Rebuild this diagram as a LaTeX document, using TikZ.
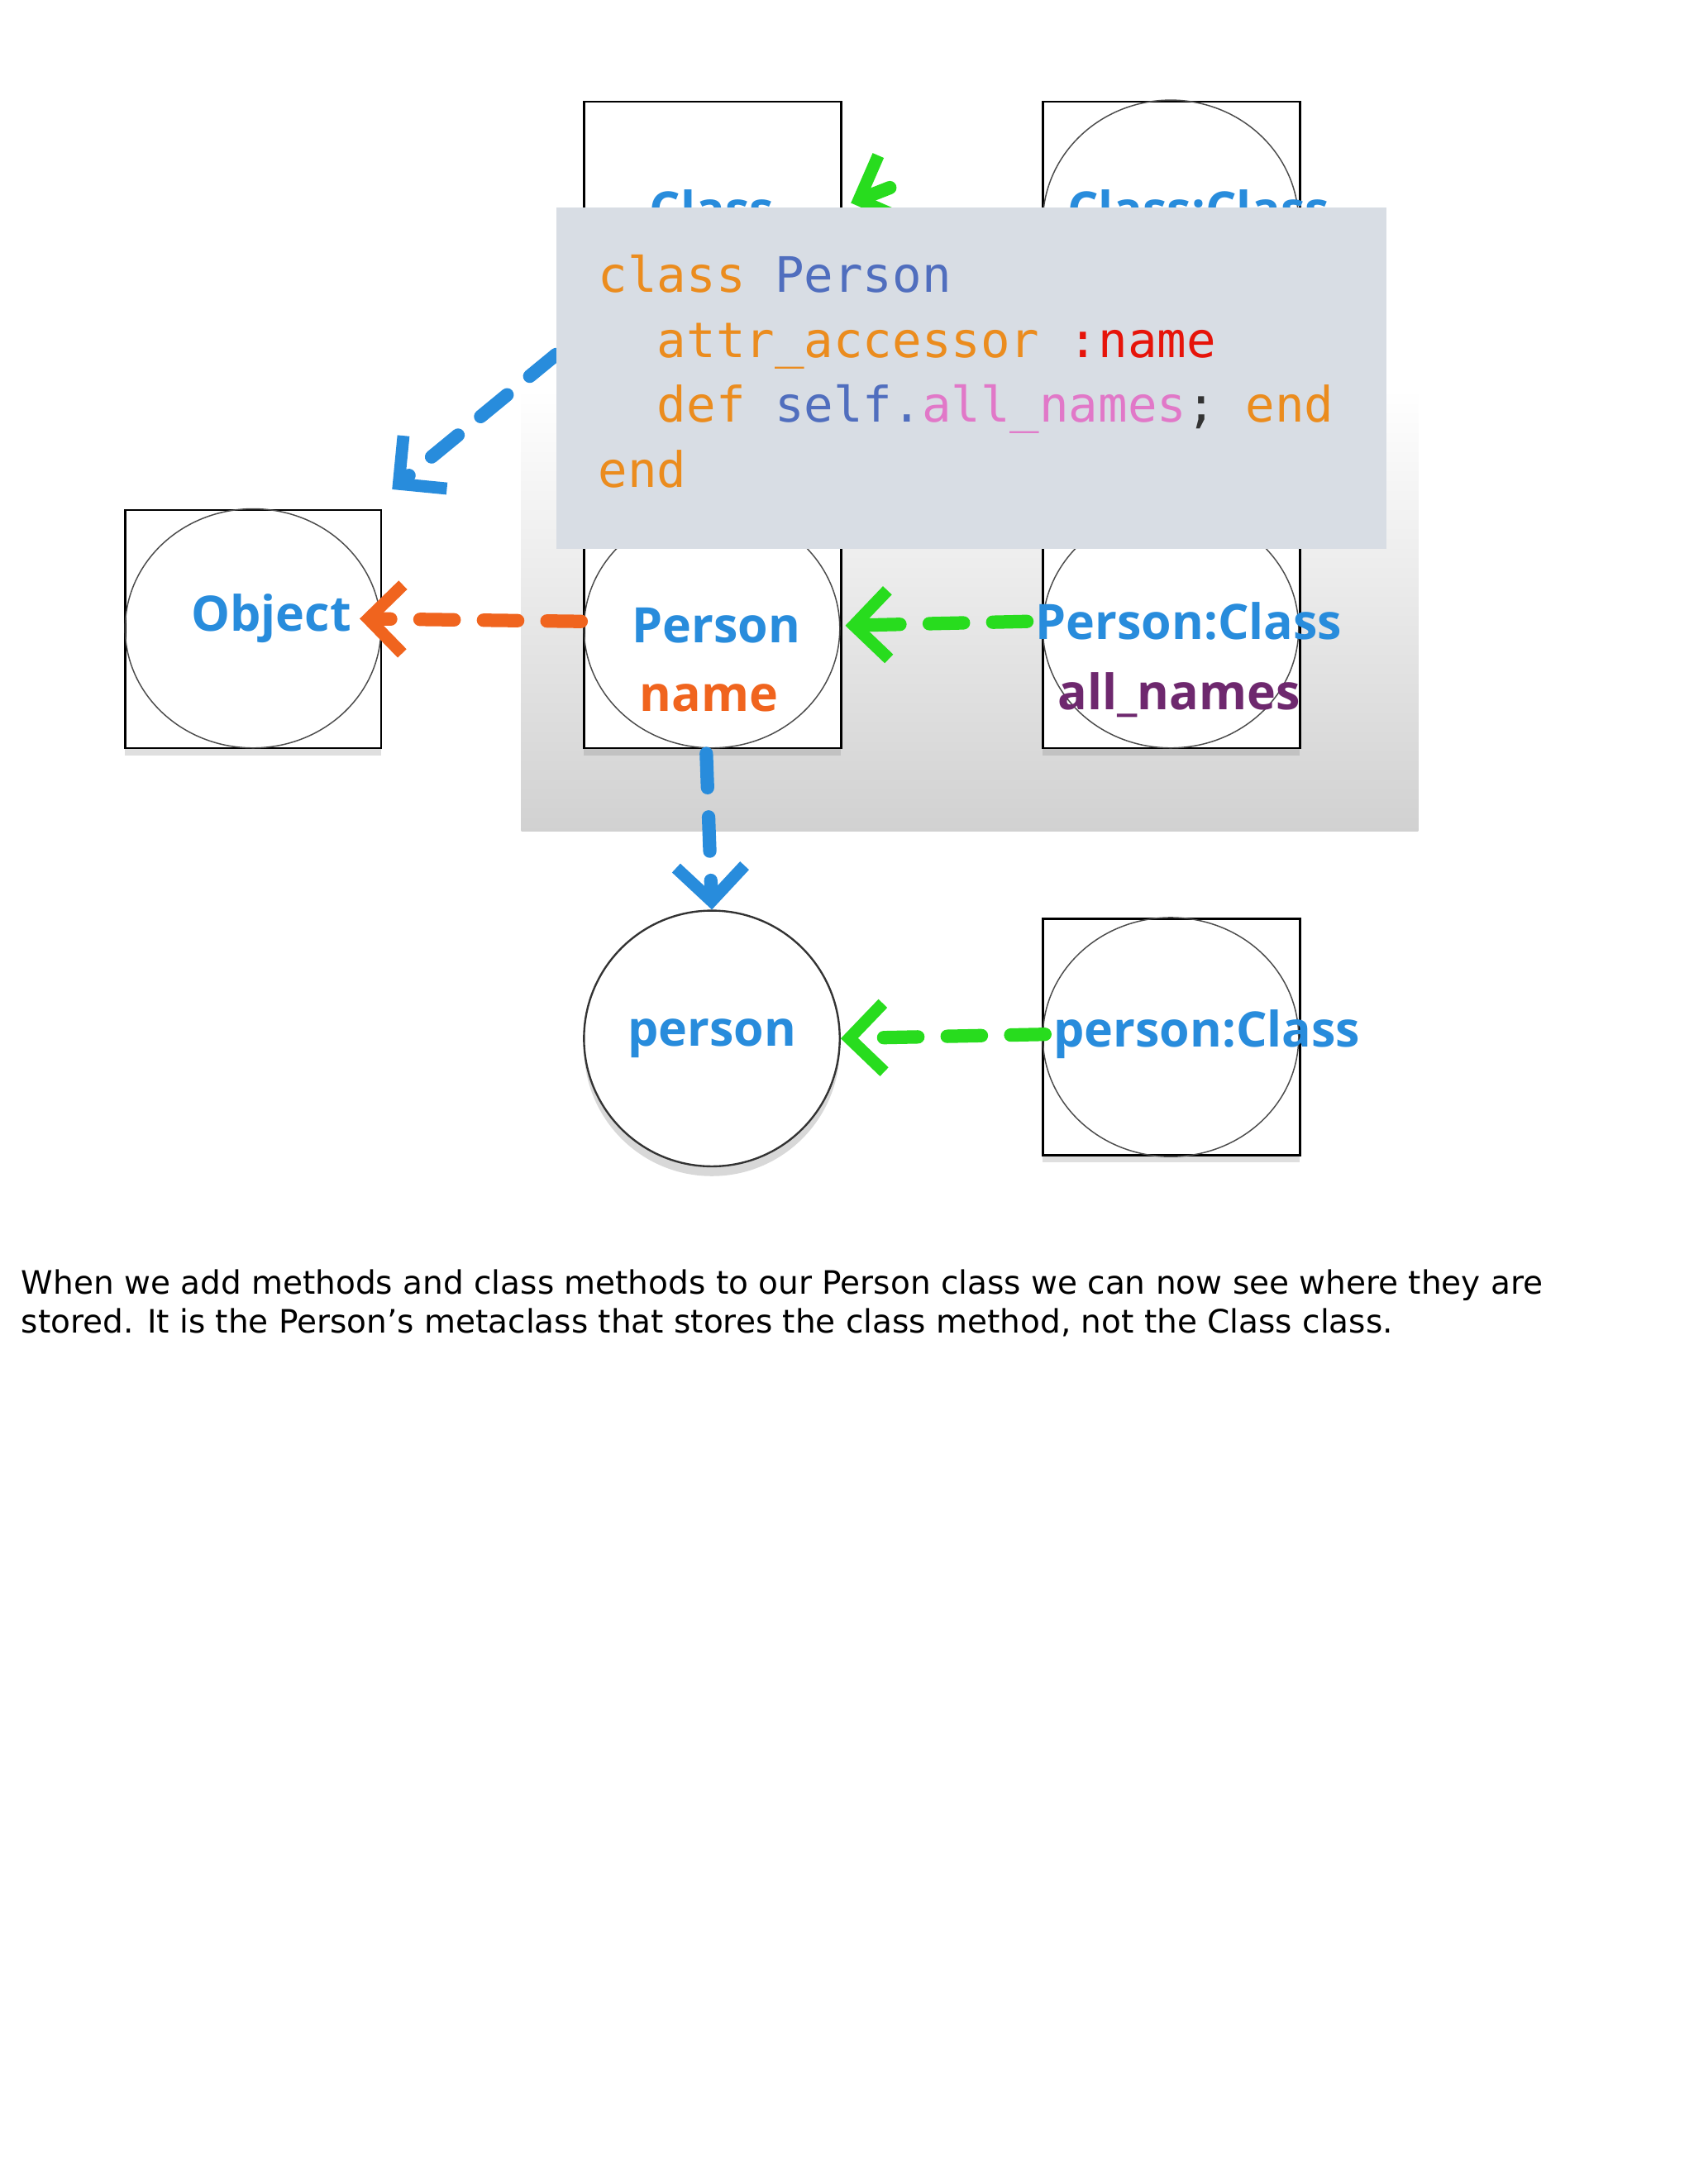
\documentclass[tikz,border=0pt]{standalone}
\usepackage{fontspec}
\setmainfont{DejaVu Sans}
\newfontfamily\lblfont{Open Sans}
\newfontfamily\capfont{DejaVu Sans}
\newfontfamily\monofont{DejaVu Sans Mono}
\usetikzlibrary{arrows.meta,shadows}
\definecolor{lblue}{RGB}{40,140,220}
\definecolor{lgreen}{RGB}{40,220,30}
\definecolor{lorange}{RGB}{240,100,30}
\definecolor{corange}{RGB}{235,140,30}
\definecolor{cblue}{RGB}{80,110,190}
\definecolor{cred}{RGB}{230,20,10}
\definecolor{cpink}{RGB}{225,120,200}
\definecolor{lpurple}{RGB}{110,40,110}
\definecolor{codebg}{RGB}{216,221,228}
\begin{document}
\begin{tikzpicture}[x=0.02cm,y=-0.02cm,
  box/.style={draw=black,line width=0.8pt,fill=white,drop shadow={opacity=0.25,shadow xshift=0pt,shadow yshift=-3pt}},
  circ/.style={draw=black!70,line width=0.5pt},
  lab/.style={font=\lblfont\bfseries\fontsize{20}{24}\selectfont,text=lblue},
  arr/.style={line width=5.5pt,dash pattern=on 14pt off 12pt,-{Straight Barb[length=14pt,width=28pt,line width=5pt]},line cap=round}]
\useasboundingbox (0,0) rectangle (1218,1571);
\fill[white] (0,0) rectangle (1218,1571);
% panel
\shade[top color=white,bottom color=black!18] (375,280) rectangle (1020,598);
% boxes
\draw[box] (420,73) rectangle (605,250);
\node[lab] (class) at (512,150) {Class};
\draw[box] (750,73) rectangle (935,250);
\draw[circ] (842,160) circle[x radius=92,y radius=88];
\node[lab] (cc) at (862,150) {Class:Class};
\draw[box] (90,367) rectangle (274,538);
\draw[circ] (182,452) circle[x radius=92,y radius=86];
\node[lab] (object) at (195,445) {Object};
\draw[box] (420,367) rectangle (605,538);
\draw[circ] (512,452) circle[x radius=92,y radius=86];
\node[lab] (person) at (515,450) {Person};
\node[lab,text=lorange] (name) at (510,502) {name};
\draw[box] (750,367) rectangle (935,538);
\draw[circ] (842,452) circle[x radius=92,y radius=86];
\node[lab] (pc) at (855,447) {Person:Class};
\node[lab,text=lpurple] (alln) at (848,500) {all\_names};
\node[circle,draw=black!80,line width=0.8pt,fill=white,minimum size=3.68cm,inner sep=0pt,drop shadow={opacity=0.3,shadow xshift=0pt,shadow yshift=-4pt}] (pcirc) at (512,747) {};
\node[lab] (pers) at (512,747) {person};
\draw[box] (750,661) rectangle (935,831);
\draw[circ] (842,746) circle[x radius=92,y radius=86];
\node[lab] (pcl) at (868,744) {person:Class};
% connectors
\coordinate (cbl) at (400,255);
\coordinate (objtr) at (282,352);
\coordinate (ccl) at (640,135);
\coordinate (clr) at (612,146);
\draw[arr,lblue] (cbl) -- (objtr);
\draw[arr,lgreen] (ccl) -- (clr);
\draw[arr,lorange] (418,447) -- (object.east);
\draw[arr,lgreen] (pc.west) -- (608,450);
\draw[arr,lblue] (508,542) -- (pcirc.north);
\draw[arr,lgreen] (pcl.west) -- (pcirc.east);
% code box
\fill[codebg] (400,149) rectangle (997,395);
\node[anchor=north west,align=left,inner sep=0pt,font=\monofont\fontsize{20}{26.6}\selectfont] (code) at (430,183) {%
\textcolor{corange}{class} \textcolor{cblue}{Person}\\
\ \ \textcolor{corange}{attr\_accessor} \textcolor{cred}{:name}\\
\ \ \textcolor{corange}{def} \textcolor{cblue}{self.}\textcolor{cpink}{all\_names}\textcolor{black!80}{;} \textcolor{corange}{end}\\
\textcolor{corange}{end}};
% caption
\node[anchor=north west,align=left,inner sep=0pt,font=\capfont\fontsize{13.2}{15.9}\selectfont] (capt) at (15,913) {When we add methods and class methods to our Person class we can now see where they are\\stored. It is the Person’s metaclass that stores the class method, not the Class class.};
\end{tikzpicture}
\end{document}
